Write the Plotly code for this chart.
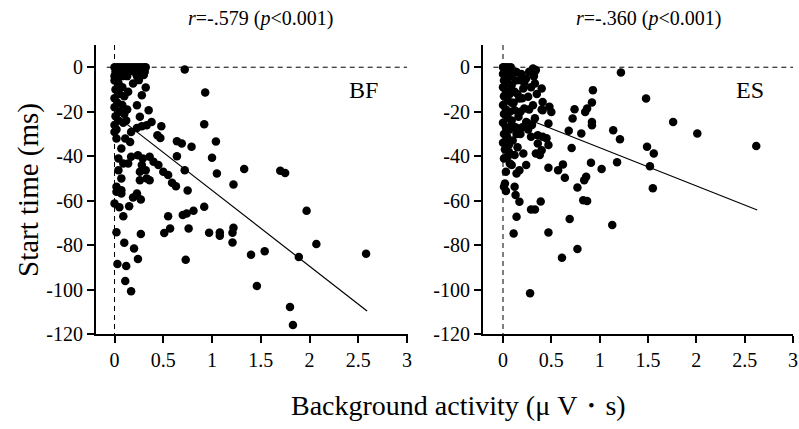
import plotly.graph_objects as go

# ---------------- data ----------------
bf_x = [0.00, 0.03, 0.06, 0.09, 0.12, 0.15, 0.18, 0.21, 0.24, 0.27, 0.30, 0.32,
        0.01, 0.05, 0.10, 0.14, 0.20, 0.26, 0.31,
        0.00, 0.04, 0.08, 0.13, 0.23, 0.30,
        0.00, 0.04, 0.08, 0.01, 0.05, 0.10, 0.00, 0.03, 0.08, 0.00, 0.05, 0.10, 0.01, 0.04, 0.09, 0.00, 0.13, 0.14, 0.12, 0.02,
        0.19, 0.25, 0.32, 0.28, 0.23, 0.35, 0.26, 0.38, 0.33, 0.48, 0.44, 0.47, 0.64, 0.69, 0.79, 0.64, 0.72,
        0.28, 0.23, 0.17, 0.11, 0.16, 0.00, 0.02, 0.07, 0.04, 0.09, 0.14, 0.17, 0.24, 0.29, 0.28, 0.32, 0.36,
        0.40, 0.45, 0.26, 0.33, 0.26, 0.36, 0.04, 0.07, 0.02, 0.07, 0.23, 0.50, 0.55, 0.59, 0.63, 0.75,
        0.72, 0.93, 0.92, 1.04, 1.00, 1.05, 1.33, 1.22, 1.70, 1.75, 1.97, 2.07, 2.58, 1.89, 1.54, 1.40,
        1.46, 1.80, 1.83, 1.21, 1.22, 1.21, 1.08, 1.08, 0.97, 0.92, 0.81, 0.74, 0.70, 0.76, 0.73, 0.55,
        0.57, 0.51,
        0.00, 0.05, 0.09, 0.15, 0.19, 0.23, 0.27, 0.02, 0.07, 0.02, 0.10, 0.20, 0.24, 0.03, 0.12, 0.11,
        0.17, 0.27]
bf_y = [0, 0, 0, 0, 0, 0, 0, 0, 0, 0, 0, 0,
        -2, -2, -2, -2, -2, -2, -2,
        -4, -4, -4, -4, -4, -3.5,
        -6, -7, -9, -10, -12, -13, -14, -16, -17, -18, -20, -21, -22, -24, -25, -26, -19, -11, -24, -28,
        -7.3, -5.8, -9.1, -12.6, -17.1, -19.3, -22.3, -24.6, -26.1, -26.5, -30.6, -31.8, -33.3, -34.3, -35.8, -40, -46.3,
        -26.5, -27.3, -29.1, -32.1, -33.6, -29.1, -32.1, -36.6, -41, -43.3, -43.3, -40.3, -39.6, -41, -44, -46.3, -40.3,
        -42.5, -44, -47, -50, -50.8, -50.8, -46.3, -50, -53.8, -55.3, -56.8, -47, -48.5, -52, -53.5, -55.4,
        -1, -11.4, -25.6, -33.4, -40.7, -47.8, -45.8, -52.7, -46.6, -47.6, -64.6, -79.5, -83.9, -85.4, -82.8, -84.3,
        -98.4, -107.9, -116, -78.8, -72.2, -74.5, -74.3, -75.8, -74.5, -62.8, -64.6, -65.8, -66.5, -72.5, -86.6, -67,
        -72.5, -74.6,
        -61.3, -63, -67, -62.5, -58.6, -57.5, -59.5, -56, -56.8, -74.2, -79, -81.5, -86.3, -88.5, -89.4, -96.2,
        -100.8, -75]

es_x = [0.00, 0.02, 0.05, 0.08, 0.31, 0.34, 0.14,
        0.00, 0.04, 0.07, 0.01, 0.05, 0.09, 0.00, 0.03, 0.07, 0.01, 0.05, 0.09, 0.00, 0.03, 0.07, 0.01,
        0.05, 0.09, 0.00, 0.03, 0.07, 0.01, 0.04, 0.00, 0.06, 0.02, 0.01, 0.05,
        0.17, 0.24, 0.33, 0.21, 0.26, 0.17, 0.31, 0.40, 0.41, 0.48, 0.41, 0.33, 0.24, 0.16, 0.22, 0.12,
        0.29, 0.36, 0.41, 0.45, 0.47, 0.36, 0.40, 0.34, 0.38, 0.21, 0.24, 0.17, 0.12, 0.07, 0.03, 0.02,
        0.14, 0.12, 0.13, 0.18, 0.10, 0.15,
        0.10, 0.13, 0.19, 0.22, 0.27, 0.29, 0.08, 0.15, 0.20, 0.11, 0.27, 0.18, 0.09, 0.20, 0.26, 0.14,
        0.06, 0.09, 0.04, 0.30, 0.35, 0.32,
        1.22, 1.48, 1.76, 2.01, 2.62, 1.49, 1.56, 1.52, 1.55, 1.18, 1.21, 1.14, 1.02, 0.91, 0.93, 0.92,
        0.87, 0.85, 0.92, 0.92, 0.81, 0.74, 0.72, 0.68, 0.71, 0.86, 0.84, 0.77, 0.83, 0.87, 0.69, 0.77,
        0.61, 1.13, 0.47, 0.28, 0.11, 0.14, 0.17, 0.13, 0.12, 0.03, 0.01, 0.29, 0.33, 0.39, 0.47, 0.57,
        0.62, 0.64, 0.50, 0.40, 0.47]
es_y = [0, 0, 0, 0, -0.6, -1.3, -2.1,
        -3, -2, -4, -6, -7, -8, -9, -11, -12, -13, -15, -16, -17, -19, -20, -21,
        -23, -24, -25, -27, -28, -30, -32, -34, -35, -37, -41, -40,
        -5.8, -5.1, -7.3, -9.6, -13.3, -14.1, -17.1, -9.6, -15.6, -17.8, -19.3, -23, -24.6, -22.3, -18.6, -19.3,
        -31.3, -30.6, -31.3, -32, -35, -34.3, -37.3, -38.8, -39.5, -38.8, -44, -46.3, -39.5, -43.3, -47, -52.3,
        -47.8, -11, -27, -30, -33, -36,
        -3, -6, -3, -7, -2, -9, -10, -12, -14, -16, -19, -20, -26, -27, -28, -30,
        -38, -44, -31, -26, -12, -4,
        -2.4, -14.1, -24.6, -29.8, -35.4, -35.8, -38.8, -44.5, -54.4, -42.7, -32.4, -28.3, -45.8, -43, -10.3, -15.9,
        -18.6, -20.1, -24.6, -26.1, -29.8, -18.9, -23.1, -28.6, -36.3, -49.3, -50.8, -54.1, -59.8, -60.2, -68.3, -81.8,
        -85.7, -71, -74.3, -101.7, -74.8, -67.3, -60.5, -57.5, -53.8, -55.7, -53.8, -64, -64, -60.4, -45.2, -46.3,
        -43.7, -49.7, -20.1, -19, -25.3]

# regression lines (intercept, slope, visible x-extent)
bf_fit = {"intercept": -21.3, "slope": -34.1, "x": [0.07, 2.59]}
es_fit = {"intercept": -19.0, "slope": -17.2, "x": [0.25, 2.63]}

panel_titles = ["<i>r</i>=-.579 (<i>p</i>&lt;0.001)", "<i>r</i>=-.360 (<i>p</i>&lt;0.001)"]
panel_labels = ["BF", "ES"]
x_ticks = [0, 0.5, 1, 1.5, 2, 2.5, 3]
x_ticktext = ["0", "0.5", "1", "1.5", "2", "2.5", "3"]
y_ticks = [-120, -100, -80, -60, -40, -20, 0]
y_ticktext = ["-120", "-100", "-80", "-60", "-40", "-20", "0"]

FONT = "Liberation Serif, Times New Roman, serif"
W, H = 799, 429

fig = go.Figure()

panels = [
    (bf_x, bf_y, bf_fit, "x", "y"),
    (es_x, es_y, es_fit, "x2", "y2"),
]
for xs, ys, fit, xa, ya in panels:
    fx = fit["x"]
    fy = [fit["intercept"] + fit["slope"] * v for v in fx]
    fig.add_trace(go.Scatter(x=fx, y=fy, mode="lines", xaxis=xa, yaxis=ya,
                             line=dict(color="black", width=1.2), showlegend=False,
                             hoverinfo="skip"))
    fig.add_trace(go.Scatter(x=xs, y=ys, mode="markers", xaxis=xa, yaxis=ya,
                             marker=dict(color="black", size=8.5, line=dict(width=0)),
                             showlegend=False))

# reference dashed lines at x=0 and y=0
for xa, ya, x0 in [("x", "y", -0.08), ("x2", "y2", -0.1)]:
    fig.add_shape(type="line", xref=xa, yref=ya, x0=x0, x1=3.0, y0=0, y1=0,
                  line=dict(color="black", width=1, dash="5px,4px"))
    fig.add_shape(type="line", xref=xa, yref=ya, x0=0, x1=0, y0=10, y1=-120,
                  line=dict(color="black", width=1, dash="5px,4px"))

left_dom = [96 / W, 408 / W]
right_dom = [483 / W, 793 / W]
y_dom = [1 - 334 / H, 1 - 45 / H]

axis_common = dict(showgrid=False, zeroline=False, showline=True, linecolor="black",
                   linewidth=2, ticks="outside", ticklen=7, tickwidth=1.5, tickcolor="black",
                   tickfont=dict(family=FONT, size=20, color="black"), automargin=False)

fig.update_layout(
    width=W, height=H,
    margin=dict(l=0, r=0, t=0, b=0),
    paper_bgcolor="white", plot_bgcolor="white",
    xaxis=dict(domain=left_dom, range=[-0.19, 3.01], tickvals=x_ticks, ticktext=x_ticktext,
               anchor="y", **axis_common),
    yaxis=dict(domain=y_dom, range=[-120, 10], tickvals=y_ticks, ticktext=y_ticktext,
               anchor="x", **axis_common),
    xaxis2=dict(domain=right_dom, range=[-0.207, 3.0], tickvals=x_ticks, ticktext=x_ticktext,
                anchor="y2", **axis_common),
    yaxis2=dict(domain=y_dom, range=[-120, 10], tickvals=y_ticks, ticktext=y_ticktext,
                anchor="x2", **axis_common),
)

annotations = []
for i, (xa, ya) in enumerate([("x", "y"), ("x2", "y2")]):
    annotations.append(dict(text=panel_titles[i], x=1.5, xref=xa, y=1 - 18 / H, yref="paper",
                            showarrow=False, xanchor="center", yanchor="middle",
                            font=dict(family=FONT, size=20, color="black")))
    annotations.append(dict(text=panel_labels[i], x=2.55, xref=xa, y=-10.3, yref=ya,
                            showarrow=False, xanchor="center", yanchor="middle",
                            font=dict(family=FONT, size=24, color="black")))
annotations.append(dict(text="Start time (ms)", x=28 / W, y=1 - 190 / H, xref="paper", yref="paper",
                        textangle=-90, showarrow=False, xanchor="center", yanchor="middle",
                        font=dict(family=FONT, size=29, color="black")))
annotations.append(dict(text="Background activity (μ V・s)", x=458 / W, y=1 - 405 / H,
                        xref="paper", yref="paper", showarrow=False, xanchor="center",
                        yanchor="middle", font=dict(family=FONT, size=28, color="black")))
fig.update_layout(annotations=annotations)

fig.write_html("out.html", config={"displayModeBar": False},
               post_script="document.body.style.margin='0';")
